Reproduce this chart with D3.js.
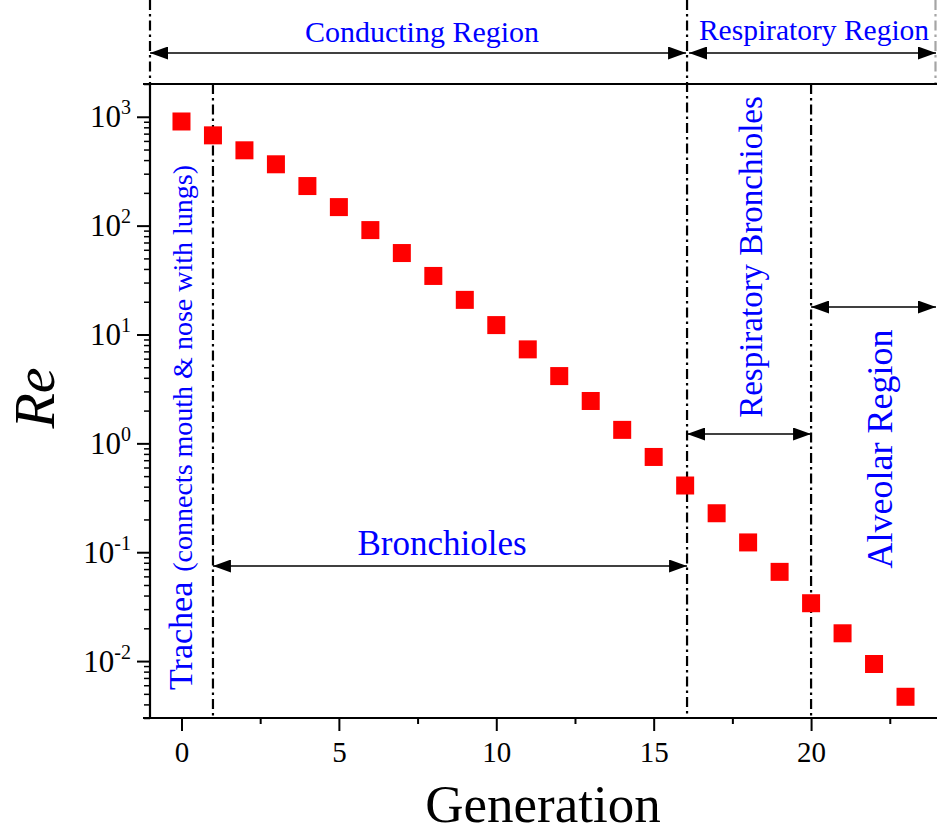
<!DOCTYPE html>
<html>
<head>
<meta charset="utf-8">
<script src="https://cdn.jsdelivr.net/npm/d3@7"></script>
<style>
  html, body { margin: 0; padding: 0; background: #fff; }
  svg { display: block; }
  text { font-family: "Liberation Serif", "Times New Roman", serif; }
</style>
</head>
<body>
<svg id="chart" width="937" height="832"></svg>
<script>
// Airway generation number and Reynolds number for each generation
const generations = [0, 1, 2, 3, 4, 5, 6, 7, 8, 9, 10, 11, 12, 13, 14, 15, 16, 17, 18, 19, 20, 21, 22, 23];
const reValues = [905, 675, 492, 366, 231, 148, 91, 56, 34.5, 20.8, 12.2, 7.3, 4.15, 2.45, 1.33, 0.75, 0.41, 0.228, 0.123, 0.066, 0.034, 0.018, 0.0094, 0.0047];

// Axis ticks
const xMajorTicks = [0, 5, 10, 15, 20];
const xMinorTicks = [2.5, 7.5, 12.5, 17.5, 22.5];
const yTickExponents = [-2, -1, 0, 1, 2, 3];

// Region boundaries along the generation axis
const regionEdges = { start: -1, trachea: 1, respiratory: 16.06, alveolar: 20, end: 24 };

const svg = d3.select("#chart");
const W = 937, H = 832;
const plot = { left: 150, right: 937, top: 84, bottom: 718 };

const x = d3.scaleLinear().domain([-1, 24]).range([plot.left, plot.right]);
const y = d3.scaleLog().domain([0.003, 2000]).range([plot.bottom, plot.top]);

const blue = "#0000ff";
const dashDot = "10,4,2.5,4";
const serif = '"Liberation Serif", "Times New Roman", serif';

// Arrow head marker
const defs = svg.append("defs");
defs.append("marker")
  .attr("id", "arrow")
  .attr("viewBox", "0 0 18 13")
  .attr("refX", 18).attr("refY", 6.5)
  .attr("markerWidth", 18).attr("markerHeight", 13)
  .attr("markerUnits", "userSpaceOnUse")
  .attr("orient", "auto-start-reverse")
  .append("path").attr("d", "M0,0 L18,6.5 L0,13 Z").attr("fill", "#000");

// ---- Axes ----
const xAxisMajor = d3.axisBottom(x).tickValues(xMajorTicks).tickSize(13).tickSizeOuter(0).tickPadding(4);
const gx = svg.append("g").attr("transform", `translate(0,${plot.bottom})`).call(xAxisMajor);
gx.attr("font-family", serif);
gx.select(".domain").remove();
gx.selectAll(".tick line").attr("stroke", "#000").attr("stroke-width", 2);
gx.selectAll(".tick text").attr("font-size", 29).attr("fill", "#000")
  .attr("dy", "0.93em");

const xAxisMinor = d3.axisBottom(x).tickValues(xMinorTicks).tickSize(6).tickFormat("");
const gxm = svg.append("g").attr("transform", `translate(0,${plot.bottom})`).call(xAxisMinor);
gxm.select(".domain").remove();
gxm.selectAll(".tick line").attr("stroke", "#000").attr("stroke-width", 2);

// y axis: decades with superscript labels
const yMajorValues = yTickExponents.map(e => Math.pow(10, e));
const yAxisMajor = d3.axisLeft(y).tickValues(yMajorValues).tickSize(13).tickFormat("");
const gy = svg.append("g").attr("transform", `translate(${plot.left},0)`).call(yAxisMajor);
gy.attr("font-family", serif);
gy.select(".domain").remove();
gy.selectAll(".tick line").attr("stroke", "#000").attr("stroke-width", 2);
gy.selectAll(".tick").each(function(d, i) {
  const t = d3.select(this).append("text")
    .attr("x", -19).attr("y", 10)
    .attr("text-anchor", "end")
    .attr("fill", "#000")
    .attr("font-size", 31);
  t.append("tspan").text("10");
  t.append("tspan").attr("font-size", 20).attr("dy", -13).text(String(yTickExponents[i]));
});

const yMinorValues = [];
for (let e = -3; e <= 3; e++) {
  for (let m = 2; m <= 9; m++) {
    const v = m * Math.pow(10, e);
    if (v >= 0.003 && v <= 2000) yMinorValues.push(v);
  }
}
const yAxisMinor = d3.axisLeft(y).tickValues(yMinorValues).tickSize(6).tickFormat("");
const gym = svg.append("g").attr("transform", `translate(${plot.left},0)`).call(yAxisMinor);
gym.select(".domain").remove();
gym.selectAll(".tick line").attr("stroke", "#000").attr("stroke-width", 1.5);

// Frame lines: left, bottom and top
svg.append("line").attr("x1", plot.left).attr("x2", plot.left).attr("y1", plot.top).attr("y2", plot.bottom)
  .attr("stroke", "#000").attr("stroke-width", 2.2);
svg.append("line").attr("x1", 143).attr("x2", W).attr("y1", plot.bottom).attr("y2", plot.bottom)
  .attr("stroke", "#000").attr("stroke-width", 2.2);
svg.append("line").attr("x1", 143).attr("x2", W).attr("y1", plot.top).attr("y2", plot.top)
  .attr("stroke", "#000").attr("stroke-width", 2.2);

// ---- Region divider lines (dash-dot) ----
const dividers = [
  { g: regionEdges.start, y1: 0, y2: plot.top },
  { g: regionEdges.trachea, y1: plot.top, y2: plot.bottom },
  { g: regionEdges.respiratory, y1: 0, y2: plot.bottom },
  { g: regionEdges.alveolar, y1: plot.top, y2: plot.bottom },
  { g: regionEdges.end, y1: 0, y2: plot.top }
];
svg.append("g").selectAll("line").data(dividers).join("line")
  .attr("x1", d => x(d.g) - (d.g === regionEdges.end ? 1.5 : 0))
  .attr("x2", d => x(d.g) - (d.g === regionEdges.end ? 1.5 : 0))
  .attr("y1", d => d.y1).attr("y2", d => d.y2)
  .attr("stroke", "#000").attr("stroke-width", 2.2)
  .attr("stroke-dasharray", dashDot)
  .attr("opacity", d => d.g === regionEdges.end ? 0.35 : 1);

// ---- Double-headed arrows ----
const arrows = [
  { from: regionEdges.start, to: regionEdges.respiratory, ypx: 53 },
  { from: regionEdges.respiratory, to: regionEdges.end, ypx: 53 },
  { from: regionEdges.trachea, to: regionEdges.respiratory, ypx: 566 },
  { from: regionEdges.respiratory, to: regionEdges.alveolar, ypx: 434 },
  { from: regionEdges.alveolar, to: regionEdges.end, ypx: 307 }
];
svg.append("g").selectAll("line").data(arrows).join("line")
  .attr("x1", (d, i) => x(d.from) + (i === 1 ? 2 : 0))
  .attr("x2", (d, i) => x(d.to) - (i === 0 ? 1 : (d.to === regionEdges.end ? 1 : 0)))
  .attr("y1", d => d.ypx).attr("y2", d => d.ypx)
  .attr("stroke", "#000").attr("stroke-width", 1.6)
  .attr("marker-start", "url(#arrow)")
  .attr("marker-end", "url(#arrow)");

// ---- Data points ----
const sq = 18;
svg.append("g").selectAll("rect").data(generations).join("rect")
  .attr("x", (d) => x(d) - sq / 2)
  .attr("y", (d, i) => y(reValues[i]) - sq / 2)
  .attr("width", sq).attr("height", sq)
  .attr("fill", "#ff0000");

// ---- Region labels ----
svg.append("text").attr("x", 422).attr("y", 42)
  .attr("text-anchor", "middle").attr("font-size", 30).attr("fill", blue).text("Conducting Region");
svg.append("text").attr("x", 814).attr("y", 40)
  .attr("text-anchor", "middle").attr("font-size", 29.5).attr("fill", blue).text("Respiratory Region");
svg.append("text").attr("x", 442).attr("y", 555)
  .attr("text-anchor", "middle").attr("font-size", 35).attr("fill", blue).text("Bronchioles");

svg.append("text").attr("transform", "translate(762,257) rotate(-90)")
  .attr("text-anchor", "middle").attr("font-size", 33).attr("fill", blue).text("Respiratory Bronchioles");
svg.append("text").attr("transform", "translate(892,449) rotate(-90)")
  .attr("text-anchor", "middle").attr("font-size", 36).attr("fill", blue).text("Alveolar Region");

const trachea = svg.append("text").attr("transform", "translate(192,690) rotate(-90)")
  .attr("text-anchor", "start").attr("fill", blue);
trachea.append("tspan").attr("font-size", 34).text("Trachea");
trachea.append("tspan").attr("font-size", 28).attr("dx", 10).text("(connects mouth & nose with lungs)");

// ---- Axis titles ----
svg.append("text").attr("x", 543).attr("y", 822)
  .attr("text-anchor", "middle").attr("font-size", 53).attr("fill", "#000").text("Generation");
svg.append("text").attr("transform", "translate(54,398) rotate(-90)")
  .attr("text-anchor", "middle").attr("font-size", 58).attr("font-style", "italic")
  .attr("fill", "#000").text("Re");
</script>
</body>
</html>
